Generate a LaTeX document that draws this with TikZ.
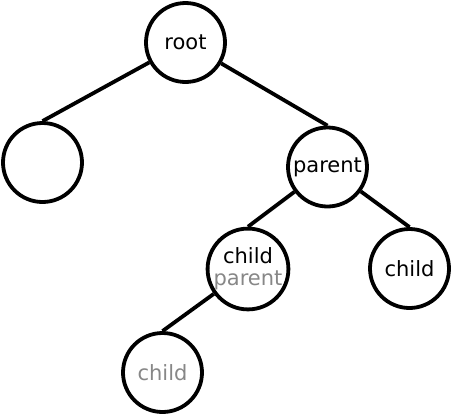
\documentclass[tikz,border=0pt]{standalone}
\usepackage{fontspec}
\setmainfont{DejaVu Sans}
\begin{document}
\begin{tikzpicture}[x=1pt,y=-1pt,
  tnode/.style={circle,draw,line width=3.8pt,minimum size=79pt,inner sep=0pt,align=center,font=\fontsize{21}{23}\selectfont},
  edge/.style={line width=3.8pt},
  faded/.style={text=black!47}]
\useasboundingbox (0,0) rectangle (453,416);
\node[tnode] (root) at (185.5,42.5) {root};
\node[tnode] (left) at (42.5,162.5) {};
\node[tnode] (parent) at (327.5,167) {parent};
\node[tnode] (cp) at (248,269) {child\\[-1pt]\textcolor{black!47}{parent}};
\node[tnode] (rc) at (409.5,268.5) {child};
\node[tnode,faded] (bc) at (162.5,372.5) {child};
\draw[edge] (root) -- (left.north);
\draw[edge] (root) -- (parent.north);
\draw[edge] (parent) -- (cp.north);
\draw[edge] (parent) -- (rc.north);
\draw[edge] (cp) -- (bc.north);
\end{tikzpicture}
\end{document}
